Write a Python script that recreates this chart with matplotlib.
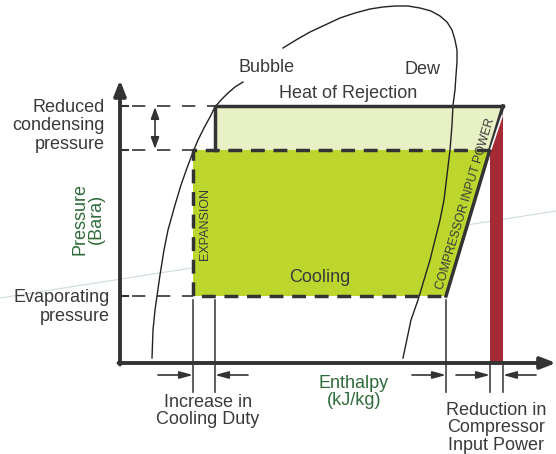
import numpy as np
import matplotlib.pyplot as plt
from matplotlib.patches import Polygon

plt.rcParams['font.family'] = ['Liberation Sans', 'DejaVu Sans']

# schematic levels (pixel space of the figure)
h_levels = [193, 215, 446, 490, 503]      # enthalpy points on the x axis
p_reduced, p_cond, p_evap = 106, 150, 296  # pressure levels (y down)
p_top_red = 113                            # top of the red power bar
axis_x0, axis_y0 = 120, 363

bubble_x = [152, 153, 155, 157, 160, 164, 168, 175, 181, 187, 193, 198, 204, 210, 215, 221, 228, 235, 243]
bubble_y = [358, 330, 310, 296, 275, 250, 230, 205, 185, 168, 152, 140, 128, 117, 107, 100, 93, 87, 82]
dome_x = [283, 296, 310, 325, 340, 355, 370, 383, 395, 408, 420, 431, 440, 447, 452, 455, 457, 457,
          456, 455, 453, 452, 450, 447, 444, 440, 435, 430, 424, 418, 411, 403]
dome_y = [48, 40, 32, 25, 18, 13, 9, 7, 6, 6, 8, 11, 16, 22, 30, 40, 50, 62,
          75, 90, 105, 125, 150, 175, 200, 220, 240, 260, 280, 300, 320, 358]

dark = '#333333'
green_text = '#2f6b3a'
light_green = '#e8f0c6'
lime = '#bdd62e'
red = '#a62a33'

fig = plt.figure(figsize=(5.56, 4.54), dpi=100)
ax = fig.add_axes([0, 0, 1, 1])
ax.set_xlim(0, 556)
ax.set_ylim(454, 0)
ax.axis('off')

h1, h2, h3, h4, h5 = h_levels

# faint background line
ax.plot([0, 556], [298, 211], color='#cfdcdc', lw=0.8, zorder=0)

# light green (reduced condensing) area
ax.add_patch(Polygon([(h2, p_reduced), (h5, p_reduced), (h4, p_cond), (h2, p_cond)],
                     closed=True, fc=light_green, ec='none', zorder=1))
# cooling area
ax.add_patch(Polygon([(h1, p_cond), (h4, p_cond), (h3, p_evap), (h1, p_evap)],
                     closed=True, fc=lime, ec='none', zorder=1))
# red compressor power bar
ax.add_patch(Polygon([(h4, p_cond), (h5, p_top_red), (h5, axis_y0), (h4, axis_y0)],
                     closed=True, fc=red, ec='none', zorder=1))

# solid outline of reduced cycle
ax.plot([h2, h2, h5], [p_cond, p_reduced, p_reduced], color=dark, lw=2.5, zorder=3)
ax.plot([h3, h5], [p_evap, p_reduced], color=dark, lw=2.5, zorder=3)
ax.plot([h4 + 1, h5 - 1], [p_cond - 1, p_top_red + 3], color='white', lw=1.2, zorder=3)

# dashed outline of original cycle
ax.plot([h4, h1, h1, h3], [p_cond, p_cond, p_evap, p_evap], color=dark, lw=2.5,
        dashes=(4, 2.5), zorder=3)

# dashed guide lines from the y axis
for y, xe in [(p_reduced, h2), (p_cond, h1), (p_evap, h1)]:
    ax.plot([axis_x0, axis_x0 + 8], [y, y], color=dark, lw=1.5, zorder=3)
    ax.plot([axis_x0 + 12, xe], [y, y], color=dark, lw=1.2, dashes=(8, 7), zorder=2)

# vertical drop lines
for x, y0 in [(h1, 300), (h2, 300), (h3, 300), (h4, axis_y0), (h5, axis_y0)]:
    ax.plot([x, x], [y0, 392], color='#444444', lw=1.2, zorder=2)

# dome curves
ax.plot(bubble_x, bubble_y, color='#222222', lw=1.0, zorder=2)
ax.plot(dome_x, dome_y, color='#222222', lw=1.0, zorder=2)

# axes with arrows
ax.annotate('', xy=(axis_x0, 80), xytext=(axis_x0, axis_y0 + 1.5),
            arrowprops=dict(arrowstyle='-|>,head_length=0.9,head_width=0.35',
                            color=dark, lw=2.8, shrinkA=0, shrinkB=0), zorder=4)
ax.annotate('', xy=(556, axis_y0), xytext=(axis_x0 - 1.5, axis_y0),
            arrowprops=dict(arrowstyle='-|>,head_length=0.9,head_width=0.35',
                            color=dark, lw=2.8, shrinkA=0, shrinkB=0), zorder=4)

# double arrow for pressure reduction
ax.annotate('', xy=(155, p_reduced + 1), xytext=(155, p_cond - 1),
            arrowprops=dict(arrowstyle='<|-|>,head_length=0.7,head_width=0.25',
                            color=dark, lw=1.2, shrinkA=0, shrinkB=0))

# small dimension arrows under the x axis
arr = dict(arrowstyle='-|>,head_length=0.8,head_width=0.22', color=dark, lw=1.2,
           shrinkA=0, shrinkB=0)
ya = 375
for x0, x1 in [(158, h1), (248, h2), (412, h3), (456, h4), (536, h5)]:
    ax.annotate('', xy=(x1, ya), xytext=(x0, ya), arrowprops=arr)

fs = 13
tc = '#3a3a3a'
ax.text(105, 126, 'Reduced\ncondensing\npressure', ha='right', va='center',
        fontsize=fs, color=tc, linespacing=1.1)
ax.text(110, 307, 'Evaporating\npressure', ha='right', va='center',
        fontsize=fs, color=tc, linespacing=1.1)
ax.text(88, 219, 'Pressure\n(Bara)', ha='center', va='center', rotation=90,
        fontsize=fs, color=green_text, linespacing=1.0)
ax.text(354, 392, 'Enthalpy\n(kJ/kg)', ha='center', va='center',
        fontsize=fs, color=green_text, linespacing=1.0)
ax.text(208, 411, 'Increase in\nCooling Duty', ha='center', va='center',
        fontsize=fs, color=tc, linespacing=1.05)
ax.text(496, 428, 'Reduction in\nCompressor\nInput Power', ha='center', va='center',
        fontsize=fs, color=tc, linespacing=1.05)
ax.text(348, 94, 'Heat of Rejection', ha='center', va='center', fontsize=fs, color=tc)
ax.text(320, 277, 'Cooling', ha='center', va='center', fontsize=fs, color=tc)
ax.text(267, 67, 'Bubble', ha='center', va='center', fontsize=fs, color=tc)
ax.text(422, 69, 'Dew', ha='center', va='center', fontsize=fs, color=tc)
ax.text(205, 224, 'EXPANSION', ha='center', va='center', rotation=90,
        fontsize=9, color=tc)
ang = np.degrees(np.arctan2(p_evap - p_reduced, h5 - h3))
ax.text(466, 204, 'COMPRESSOR INPUT POWER', ha='center', va='center', rotation=ang,
        rotation_mode='anchor', fontsize=8.8, color=tc)

fig.savefig('out.png', dpi=100)
